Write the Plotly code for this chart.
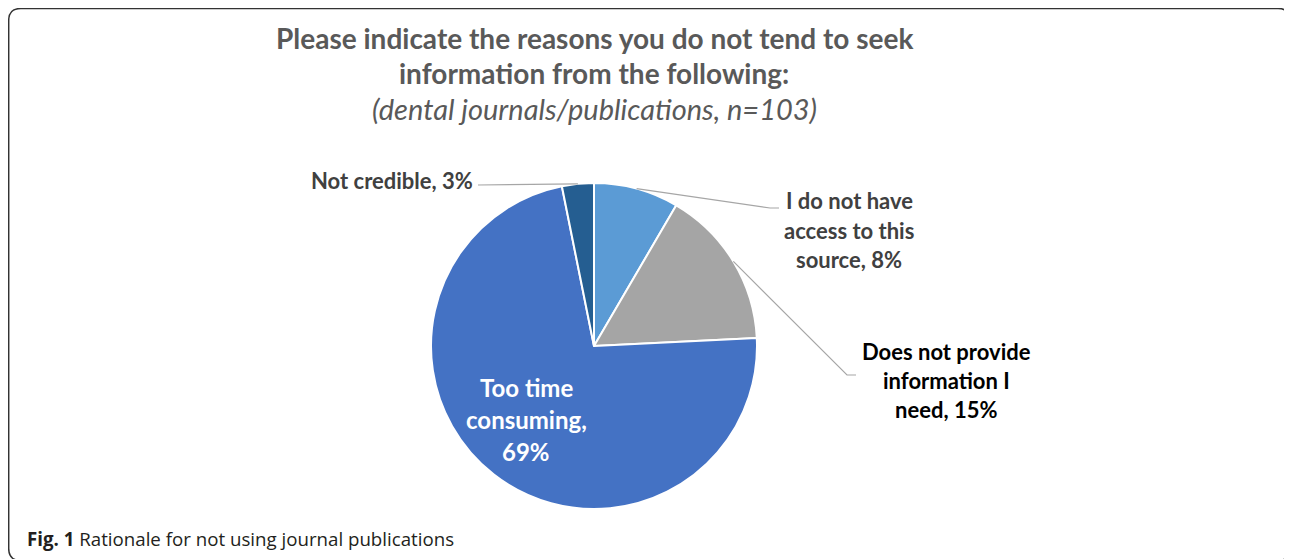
import math
import plotly.graph_objects as go

# ---- data ----
categories = ["I do not have access to this source", "Does not provide information I need",
              "Too time consuming", "Not credible"]
values = [8, 15, 69, 3]
label_lines = [["I do not have", "access to this", "source, 8%"],
               ["Does not provide", "information I", "need, 15%"],
               ["Too time", "consuming,", "69%"],
               ["Not credible, 3%"]]
colors = ["#5B9BD5", "#A5A5A5", "#4472C4", "#255E91"]
title_lines = ["Please indicate the reasons you do not tend to seek",
               "information from the following:"]
subtitle = "(dental journals/publications, n=103)"
caption_bold = "Fig. 1"
caption_text = " Rationale for not using journal publications"

# page has an 8px body margin; figure is sized to the visible window area
OFF = 8
W, H = 1292 - OFF, 559 - OFF
FONT = "Lato"

def px(x):
    return (x - OFF) / W

def py(y):
    return 1 - (y - OFF) / H

# pie geometry (reference-window pixels)
cx, cy, R = 594, 346, 163

fig = go.Figure(go.Pie(
    labels=categories, values=values, sort=False, direction="clockwise",
    rotation=0, marker=dict(colors=colors, line=dict(color="white", width=2)),
    textinfo="none", hoverinfo="label+percent", showlegend=False,
    domain=dict(x=[px(cx - R), px(cx + R)], y=[py(cy + R), py(cy - R)]),
))

ann = []
shapes = []

def add_lines(lines, x, y0, dy, size, color, bold=True, italic=False, xanchor="center"):
    for i, t in enumerate(lines):
        txt = t
        if bold:
            txt = "<b>" + txt + "</b>"
        if italic:
            txt = "<i>" + txt + "</i>"
        ann.append(dict(x=px(x), y=py(y0 + i * dy), xref="paper", yref="paper",
                        text=txt, showarrow=False, xanchor=xanchor, yanchor="middle",
                        font=dict(family=FONT, size=size, color=color)))

# title
add_lines(title_lines, 594, 38, 35, 28, "#595959")
add_lines([subtitle], 594, 108, 0, 29, "#595959", bold=False, italic=True)

# slice labels
add_lines(label_lines[0], 849, 201, 29, 22, "#404040")
add_lines(label_lines[1], 946, 351, 29, 22, "#000000")
add_lines(label_lines[2], 526, 387, 32, 24, "#FFFFFF")
add_lines(label_lines[3], 392, 180, 0, 22, "#404040")

# leader lines computed from slice mid-angles
total = sum(values)
cum = 0
mids = []
for v in values:
    mids.append((cum + v / 2) / total * 2 * math.pi)
    cum += v

def edge(i):
    a = mids[i]
    return cx + R * math.sin(a), cy - R * math.cos(a)

lc = dict(color="#A6A6A6", width=1.2)
ex, ey = edge(0)
shapes.append(dict(type="path", xref="paper", yref="paper",
                   path=f"M {px(ex)},{py(ey)} L {px(770)},{py(208)} L {px(779)},{py(208)}", line=lc))
ex, ey = edge(1)
shapes.append(dict(type="path", xref="paper", yref="paper",
                   path=f"M {px(ex)},{py(ey)} L {px(847)},{py(375)} L {px(856)},{py(375)}", line=lc))
ex, ey = edge(3)
shapes.append(dict(type="path", xref="paper", yref="paper",
                   path=f"M {px(ex)},{py(ey)} L {px(478)},{py(185)}", line=lc))

# frame (rounded rectangle, bottom edge just below the visible area)
x0, x1, y0, y1, r = 8.7, 1290, 8.5, 560.5, 12
path = (f"M {px(x0 + r)},{py(y0)} L {px(x1 - r)},{py(y0)} Q {px(x1)},{py(y0)} {px(x1)},{py(y0 + r)} "
        f"L {px(x1)},{py(y1 - r)} Q {px(x1)},{py(y1)} {px(x1 - r)},{py(y1)} "
        f"L {px(x0 + r)},{py(y1)} Q {px(x0)},{py(y1)} {px(x0)},{py(y1 - r)} "
        f"L {px(x0)},{py(y0 + r)} Q {px(x0)},{py(y0)} {px(x0 + r)},{py(y0)} Z")
shapes.append(dict(type="path", xref="paper", yref="paper", path=path,
                   line=dict(color="#333333", width=1.5)))

# caption
ann.append(dict(x=px(25), y=py(538), xref="paper", yref="paper", showarrow=False,
                xanchor="left", yanchor="middle",
                text="<b>" + caption_bold + "</b>" + caption_text,
                font=dict(family="Open Sans", size=18.7, color="#231F20")))

fig.update_layout(width=W, height=H, margin=dict(l=0, r=0, t=0, b=0),
                  paper_bgcolor="white", plot_bgcolor="white",
                  annotations=ann, shapes=shapes)
fig.write_html("out.html")
